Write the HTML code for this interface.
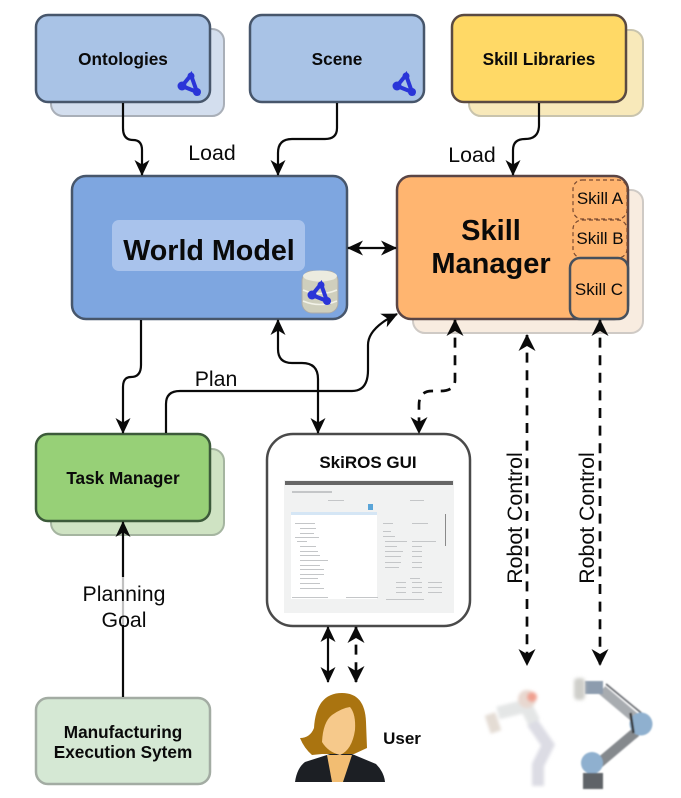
<!DOCTYPE html>
<html><head><meta charset="utf-8"><style>
html,body{margin:0;padding:0;background:#fff}
svg{display:block}
text{font-family:"Liberation Sans",sans-serif;text-anchor:middle;fill:#0a0a0a}
.b{font-weight:bold}
.l{fill:none;stroke:#0a0a0a;stroke-width:2.2}
.d{stroke-dasharray:10 7.6;stroke-width:2.7}
</style></head><body>
<svg width="681" height="798" viewBox="0 0 681 798" xmlns="http://www.w3.org/2000/svg">
<defs>
<marker id="a" markerUnits="userSpaceOnUse" markerWidth="20" markerHeight="20" refX="15" refY="9" orient="auto-start-reverse"><path d="M0,1.5 L16,9 L0,16.5 L4.5,9 Z" fill="#0a0a0a"/></marker>
<marker id="c" markerUnits="userSpaceOnUse" markerWidth="22" markerHeight="22" refX="16" refY="10" orient="auto-start-reverse"><path d="M0,1.5 L17,10 L0,18.5 L5,10 Z" fill="#0a0a0a"/></marker>
<g id="net"><path d="M13,2 L4,13 L19,19 Z" fill="none" stroke="#2a35d8" stroke-width="4"/><circle cx="13" cy="3" r="3.5" fill="#2a35d8"/><circle cx="4" cy="13" r="4.5" fill="#2a35d8"/><circle cx="19" cy="19" r="4" fill="#2a35d8"/></g>
<filter id="s" x="-30%" y="-30%" width="160%" height="160%"><feGaussianBlur stdDeviation="1.6"/></filter>
<filter id="s2" x="-30%" y="-30%" width="160%" height="160%"><feGaussianBlur stdDeviation="0.7"/></filter>
</defs>

<!-- back boxes -->
<rect x="51" y="29" width="173" height="87" rx="12" fill="#d3deee" stroke="#a9afb8" stroke-width="2"/>
<rect x="469" y="30" width="174" height="86" rx="12" fill="#f8e9ba" stroke="#c9c4ad" stroke-width="2"/>
<rect x="413" y="190" width="230" height="143" rx="12" fill="#f8ece0" stroke="#cfcac5" stroke-width="2"/>
<rect x="51" y="449" width="173" height="86" rx="12" fill="#cfe3c3" stroke="#a5b5a0" stroke-width="2"/>

<!-- front boxes -->
<rect x="36" y="15" width="174" height="87" rx="12" fill="#a9c3e6" stroke="#47566b" stroke-width="2.5"/>
<rect x="250" y="15" width="174" height="87" rx="12" fill="#a9c3e6" stroke="#47566b" stroke-width="2.5"/>
<rect x="452" y="15" width="174" height="87" rx="12" fill="#ffd966" stroke="#5a4a42" stroke-width="2.5"/>
<rect x="72" y="176" width="275" height="143" rx="14" fill="#7ea6e0" stroke="#47566b" stroke-width="2.5"/>
<rect x="112" y="220" width="193" height="51" rx="7" fill="#a9c3ec"/>
<rect x="397" y="176" width="231" height="143" rx="14" fill="#ffb570" stroke="#5a4545" stroke-width="2.5"/>
<rect x="573" y="180" width="54" height="39" rx="9" fill="none" stroke="#7a4a30" stroke-width="1.2" stroke-dasharray="4 3"/>
<rect x="573" y="220" width="54" height="38" rx="9" fill="none" stroke="#7a4a30" stroke-width="1.2" stroke-dasharray="4 3"/>
<rect x="570" y="258" width="58" height="61" rx="10" fill="#ffb570" stroke="#47505c" stroke-width="2.5"/>
<rect x="36" y="434" width="174" height="87" rx="12" fill="#97d077" stroke="#3c5a3a" stroke-width="2.5"/>
<rect x="36" y="698" width="174" height="86" rx="12" fill="#d5e8d4" stroke="#a3aca3" stroke-width="2.5"/>
<rect x="267" y="434" width="203" height="192" rx="26" fill="#fff" stroke="#4a4a4a" stroke-width="2.5"/>

<!-- icons -->
<use href="#net" x="178" y="73"/>
<use href="#net" x="393" y="73"/>
<rect x="302" y="271" width="36" height="42" rx="10" fill="#cfcfbd" stroke="#aaa" stroke-width="1"/>
<ellipse cx="320" cy="276" rx="17" ry="5.5" fill="#ecebdf"/>
<path d="M303,290 Q320,297 337,290 M303,301 Q320,308 337,301" fill="none" stroke="#f2f2e8" stroke-width="1.5"/>
<use href="#net" x="308" y="282"/>

<!-- screenshot -->
<g>
<rect x="284" y="480" width="170" height="133" fill="#f1f2f2"/>
<rect x="285" y="481" width="168" height="4" fill="#666"/>
<rect x="291" y="514" width="86" height="85" fill="#fff"/>
<rect x="291" y="512" width="86" height="3" fill="#d5e6f5"/>
<rect x="368" y="504" width="5" height="6" fill="#5aa5d8"/>
<g fill="#c4c6c8">
<rect x="292" y="491" width="40" height="2"/><rect x="328" y="500" width="16" height="1"/><rect x="410" y="500" width="14" height="1"/>
<rect x="295" y="523" width="20" height="1"/><rect x="300" y="528" width="16" height="1"/><rect x="300" y="533" width="14" height="1"/><rect x="295" y="537" width="24" height="1"/><rect x="297" y="541" width="10" height="1"/>
<rect x="300" y="546" width="16" height="1"/><rect x="300" y="551" width="18" height="1"/><rect x="300" y="555" width="20" height="1"/><rect x="300" y="560" width="28" height="1"/><rect x="300" y="565" width="20" height="1"/><rect x="300" y="569" width="24" height="1"/><rect x="300" y="574" width="24" height="1"/><rect x="300" y="578" width="18" height="1"/><rect x="300" y="583" width="20" height="1"/><rect x="300" y="588" width="24" height="1"/>
<rect x="292" y="597" width="36" height="1"/><rect x="346" y="597" width="32" height="1"/>
<rect x="383" y="523" width="10" height="1"/><rect x="412" y="523" width="16" height="1"/><rect x="383" y="531" width="8" height="1"/><rect x="383" y="536" width="12" height="1"/><rect x="385" y="541" width="22" height="1"/><rect x="412" y="541" width="24" height="1"/><rect x="385" y="546" width="12" height="1"/><rect x="412" y="546" width="10" height="1"/><rect x="385" y="551" width="18" height="1"/><rect x="412" y="551" width="10" height="1"/><rect x="385" y="556" width="16" height="1"/><rect x="412" y="556" width="10" height="1"/><rect x="385" y="562" width="16" height="1"/><rect x="412" y="562" width="10" height="1"/><rect x="385" y="567" width="14" height="1"/><rect x="412" y="567" width="10" height="1"/>
<rect x="410" y="578" width="10" height="1"/><rect x="396" y="582" width="10" height="1"/><rect x="412" y="582" width="10" height="1"/><rect x="428" y="582" width="14" height="1"/><rect x="396" y="587" width="10" height="1"/><rect x="412" y="587" width="10" height="1"/><rect x="428" y="587" width="14" height="1"/><rect x="396" y="592" width="10" height="1"/><rect x="412" y="592" width="10" height="1"/><rect x="428" y="592" width="14" height="1"/><rect x="386" y="599" width="38" height="1"/>
</g>
<rect x="445" y="514" width="1" height="32" fill="#8a8a8a"/>
</g>

<!-- connectors -->
<path class="l" d="M123,103 V128 Q123,140 133,140 Q142,140 142,150 V175" marker-end="url(#a)"/>
<path class="l" d="M337,103 V128 Q337,139 325,139 H292 Q278,139 278,153 V175" marker-end="url(#a)"/>
<path class="l" d="M539,103 V125 Q539,139 525,139 Q513,139 513,150 V175" marker-end="url(#a)"/>
<path class="l" d="M348,248 H396" marker-start="url(#a)" marker-end="url(#a)"/>
<path class="l" d="M141,320 V365 Q141,377 131,377 Q123,377 123,387 V433" marker-end="url(#a)"/>
<path class="l" d="M166,433 V404 Q166,391 180,391 H352 Q368,391 368,370 V345 Q368,328 397,314" marker-end="url(#a)"/>
<path class="l" d="M278,320 V349 Q278,363 292,363 H302 Q318,363 318,379 V433" marker-start="url(#a)" marker-end="url(#a)"/>
<path class="l d" d="M455,320 V380 Q455,391 440,391 H432 Q419,391 419,405 V433" marker-start="url(#c)" marker-end="url(#c)"/>
<path class="l d" d="M527,335 V665" marker-start="url(#c)" marker-end="url(#c)"/>
<path class="l d" d="M600,320 V665" marker-start="url(#c)" marker-end="url(#c)"/>
<path class="l" d="M123,697 V522" marker-end="url(#a)"/>
<path class="l" d="M328,627 V682" marker-start="url(#a)" marker-end="url(#a)"/>
<path class="l d" d="M356,627 V682" marker-start="url(#c)" marker-end="url(#c)"/>

<!-- labels -->
<text class="b" x="123" y="65" font-size="17.2">Ontologies</text>
<text class="b" x="337" y="65" font-size="17.2">Scene</text>
<text class="b" x="539" y="65" font-size="17.2">Skill Libraries</text>
<text class="b" x="209" y="260" font-size="28.7">World Model</text>
<text class="b" x="491" y="240" font-size="29">Skill</text>
<text class="b" x="491" y="273" font-size="29">Manager</text>
<text x="600" y="204" font-size="17">Skill A</text>
<text x="600" y="244" font-size="17">Skill B</text>
<text x="599" y="295" font-size="17">Skill C</text>
<text class="b" x="123" y="484" font-size="17.2">Task Manager</text>
<text class="b" x="368" y="468" font-size="17">SkiROS GUI</text>
<text class="b" x="123" y="738" font-size="17.2">Manufacturing</text>
<text class="b" x="123" y="758" font-size="17.2">Execution Sytem</text>
<text class="b" x="402" y="744" font-size="17">User</text>
<text x="212" y="160" font-size="21.3">Load</text>
<text x="472" y="162" font-size="21.3">Load</text>
<text x="216" y="386" font-size="21.3">Plan</text>
<rect x="84" y="577" width="80" height="48" fill="#fff" fill-opacity="0.75"/>
<text x="124" y="601" font-size="21.3">Planning</text>
<text x="124" y="627" font-size="21.3">Goal</text>
<text x="0" y="0" font-size="21.3" transform="translate(522,518) rotate(-90)">Robot Control</text>
<text x="0" y="0" font-size="21.3" transform="translate(594,518) rotate(-90)">Robot Control</text>

<!-- user -->
<path d="M295,782 Q297,768 305,762 L330,754 H352 L376,764 Q384,772 385,782 Z" fill="#1c1f24"/>
<path d="M332,782 L327,755 H352 L343,782 Z" fill="#f2bd72"/>
<path d="M300,738 Q310,738 314,728 Q316,693 342,693 Q365,693 366,722 L367,748 L354,754 H322 L312,755 Q304,748 300,738 Z" fill="#aa7410"/>
<path d="M322,742 Q323,722 332,715 Q342,708 350,707 Q356,714 355,730 Q352,750 340,755 Q328,752 322,742 Z" fill="#f6c98b"/>

<!-- kuka-like robot -->
<g filter="url(#s)">
<path d="M538,786 L538,765 L548,745 L532,722" fill="none" stroke="#dcdce4" stroke-width="12"/>
<path d="M534,722 L526,706 L498,713" fill="none" stroke="#e4e6e6" stroke-width="13"/>
<circle cx="527" cy="699" r="9" fill="#e8d8d0"/>
<circle cx="532" cy="697" r="5" fill="#f0a090"/>
<path d="M490,714 L496,732" fill="none" stroke="#e4dcd4" stroke-width="11"/>
</g>

<!-- UR-like robot -->
<g filter="url(#s2)">
<path d="M602,690 L640,722" fill="none" stroke="#a8acb0" stroke-width="10"/>
<path d="M606,684 L645,716" fill="none" stroke="#55595e" stroke-width="1.5"/>
<path d="M636,732 L598,764" fill="none" stroke="#85898d" stroke-width="10"/>
<rect x="585" y="681" width="18" height="13" fill="#8d9cae"/>
<rect x="574" y="678" width="11" height="22" rx="4" fill="#cfcfca" filter="url(#s)"/>
<circle cx="641" cy="724" r="11.5" fill="#8fb0cf"/>
<path d="M634,713 L630,733" stroke="#333" stroke-width="2.5" transform="rotate(-20 632 723)"/>
<circle cx="592" cy="763" r="11" fill="#8fb0cf"/>
<rect x="583" y="773" width="20" height="16" fill="#5f6367"/>
</g>
</svg>
</body></html>
